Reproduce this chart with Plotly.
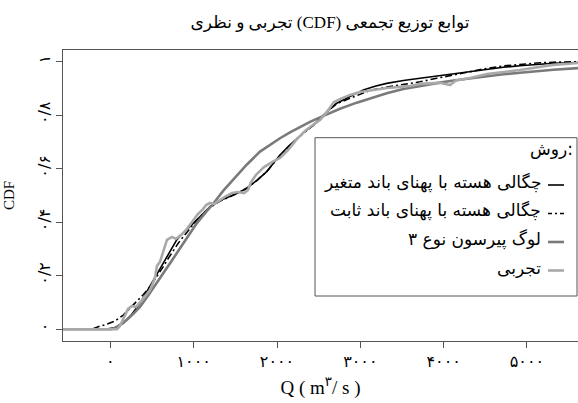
import plotly.graph_objects as go

# ---------------- data ----------------
# Kernel density, variable bandwidth (black solid)
var_x = [-569, -200, -50, 50, 155, 255, 355, 435, 515, 595, 676, 736, 796, 856, 916, 976,
         1036, 1116, 1196, 1316, 1436, 1536, 1636, 1756, 1876, 1956, 2036, 2137, 2237, 2336,
         2436, 2517, 2597, 2657, 2717, 2816, 2916, 3036, 3176, 3317, 3517, 3717, 3917, 4116,
         4317, 4517, 4717, 4917, 5117, 5317, 5613]
var_y = [0, 0, 0.001, 0.006, 0.022, 0.055, 0.097, 0.14, 0.184, 0.228, 0.271, 0.305, 0.334,
         0.355, 0.371, 0.39, 0.408, 0.432, 0.458, 0.481, 0.496, 0.51, 0.527, 0.556, 0.589, 0.62,
         0.651, 0.684, 0.714, 0.74, 0.763, 0.788, 0.813, 0.83, 0.845, 0.862, 0.876, 0.894, 0.908,
         0.919, 0.93, 0.938, 0.946, 0.954, 0.963, 0.972, 0.979, 0.985, 0.99, 0.994, 0.997]

# Kernel density, fixed bandwidth (black dash-dot)
fix_x = [-569, -300, -200, -125, -50, 50, 155, 236, 316, 396, 475, 555, 635, 695, 755, 815,
         875, 955, 1036, 1116, 1196, 1316, 1436, 1536, 1636, 1756, 1876, 2036, 2237, 2436, 2597,
         2717, 2916, 3117, 3317, 3517, 3717, 3917, 4116, 4317, 4517, 4717, 4917, 5117, 5317, 5613]
fix_y = [0, 0, 0.003, 0.012, 0.018, 0.03, 0.053, 0.078, 0.103, 0.13, 0.159, 0.195, 0.234,
         0.265, 0.296, 0.322, 0.346, 0.377, 0.408, 0.432, 0.455, 0.479, 0.495, 0.51, 0.527,
         0.556, 0.589, 0.65, 0.712, 0.762, 0.812, 0.843, 0.868, 0.893, 0.905, 0.915, 0.925,
         0.938, 0.95, 0.962, 0.975, 0.984, 0.99, 0.995, 0.998, 1.0]

# Log-Pearson type III (dark gray)
lp3_x = [-569, 0, 60, 120, 196, 275, 355, 455, 556, 636, 716, 796, 875, 955, 1036, 1136, 1236,
         1356, 1476, 1636, 1796, 1916, 2036, 2156, 2276, 2396, 2516, 2636, 2756, 2957, 3117,
         3317, 3516, 3717, 3917, 4117, 4317, 4517, 4717, 4917, 5118, 5317, 5613]
lp3_y = [0, 0, 0.005, 0.018, 0.035, 0.058, 0.084, 0.127, 0.172, 0.21, 0.247, 0.284, 0.321,
         0.359, 0.396, 0.434, 0.47, 0.518, 0.56, 0.615, 0.664, 0.69, 0.714, 0.736, 0.757, 0.775,
         0.792, 0.809, 0.824, 0.847, 0.863, 0.882, 0.898, 0.91, 0.92, 0.93, 0.938, 0.946, 0.953,
         0.959, 0.965, 0.97, 0.976]

# Empirical (light gray)
emp_x = [-569, 79, 115, 163, 211, 259, 307, 379, 475, 535, 559, 595, 619, 643, 679, 739, 788,
         836, 908, 980, 1052, 1112, 1148, 1196, 1244, 1316, 1388, 1460, 1532, 1604, 1652, 1688,
         1748, 1844, 1940, 2036, 2132, 2228, 2336, 2444, 2516, 2588, 2648, 2684, 2756, 2876,
         2996, 3320, 3476, 3597, 3717, 3957, 4077, 4149, 4317, 4521, 4917, 5313, 5613]
emp_y = [0, 0, 0.012, 0.042, 0.076, 0.087, 0.083, 0.109, 0.147, 0.192, 0.237, 0.252, 0.274,
         0.3, 0.334, 0.345, 0.338, 0.349, 0.371, 0.401, 0.431, 0.449, 0.464, 0.472, 0.468,
         0.483, 0.498, 0.509, 0.513, 0.509, 0.521, 0.55, 0.577, 0.606, 0.625, 0.64, 0.67, 0.707,
         0.741, 0.767, 0.782, 0.808, 0.834, 0.849, 0.86, 0.876, 0.887, 0.902, 0.906, 0.909,
         0.917, 0.921, 0.913, 0.93, 0.939, 0.954, 0.969, 0.988, 0.995]

x_tickvals = [0, 1000, 2000, 3000, 4000, 5000]
x_ticktext = ["۰", "۱۰۰۰", "۲۰۰۰", "۳۰۰۰", "۴۰۰۰", "۵۰۰۰"]
y_tickvals = [0, 0.2, 0.4, 0.6, 0.8, 1.0]
y_ticktext = ["۰", "۰/۲", "۰/۴", "۰/۶", "۰/۸", "۱"]

legend_title = "روش:"
series_names = ["چگالی هسته با پهنای باند متغیر",
                "چگالی هسته با پهنای باند ثابت",
                "لوگ پیرسون نوع ۳",
                "تجربی"]
title_text = "توابع توزیع تجمعی (CDF) تجربی و نظری"

# ---------------- styles ----------------
styles = [
    dict(color="#000000", width=1.6, dash="solid"),
    dict(color="#000000", width=1.6, dash="7px,3px,2px,3px"),
    dict(color="#7a7a7a", width=2.6, dash="solid"),
    dict(color="#a9a9a9", width=2.6, dash="solid"),
]

W, H = 578, 403
ML, MR, MT, MB = 63, 0, 50, 62
PW, PH = W - ML - MR, H - MT - MB


def px_x(p):
    return (p - ML) / PW


def px_y(p):
    return (H - MB - p) / PH


fig = go.Figure()
data = [(var_x, var_y), (fix_x, fix_y), (lp3_x, lp3_y), (emp_x, emp_y)]
for (xs, ys), name, st in zip(data, series_names, styles):
    fig.add_trace(go.Scatter(x=xs, y=ys, mode="lines", name=name,
                             line=dict(color=st["color"], width=st["width"], dash=st["dash"]),
                             showlegend=False))

# ---------------- manual RTL legend ----------------
shapes = [dict(type="rect", xref="paper", yref="paper",
               x0=px_x(315), x1=px_x(577), y0=px_y(296), y1=px_y(137.7),
               line=dict(color="#555555", width=1), fillcolor="white", layer="above")]
annotations = []
row_px = [185, 213.5, 242, 270.5]
legend_font = dict(family="DejaVu Sans", size=17, color="#000")
for name, st, ry in zip(series_names, styles, row_px):
    shapes.append(dict(type="line", xref="paper", yref="paper",
                       x0=px_x(548), x1=px_x(564), y0=px_y(ry), y1=px_y(ry),
                       line=dict(color=st["color"], width=st["width"],
                                 dash="4px,3px,2px,3px" if st["dash"] != "solid" else "solid"),
                       layer="above"))
    annotations.append(dict(xref="paper", yref="paper", x=px_x(543), y=px_y(ry - 3),
                            xanchor="right", yanchor="middle", showarrow=False,
                            text=name, font=legend_font))
annotations.append(dict(xref="paper", yref="paper", x=px_x(575), y=px_y(149),
                        xanchor="right", yanchor="middle", showarrow=False,
                        text="\u200e" + legend_title + "\u200e", font=legend_font))

axis_font = dict(family="DejaVu Sans", size=16, color="#000")
fig.update_layout(
    width=W, height=H,
    margin=dict(l=ML, r=MR, t=MT, b=MB, pad=0),
    paper_bgcolor="white", plot_bgcolor="white",
    title=dict(text="\u202b" + title_text + "\u202c", x=px_x(330), xanchor="center",
               xref="paper", y=1 - 22 / H, yanchor="middle",
               font=dict(family="Liberation Serif, DejaVu Sans", size=17, color="#000")),
    xaxis=dict(range=[-569, 5613], tickvals=x_tickvals, ticktext=x_ticktext,
               showgrid=False, zeroline=False, showline=True, linecolor="#555555",
               linewidth=1, mirror=True, ticks="outside", ticklen=6, tickcolor="#555555",
               tickfont=axis_font,
               title=dict(text="Q ( m<sup>۳</sup>/ s )", standoff=10,
                          font=dict(family="Liberation Serif, DejaVu Sans", size=19, color="#000"))),
    yaxis=dict(range=[-0.0437, 1.0437], tickvals=y_tickvals, ticktext=y_ticktext,
               showgrid=False, zeroline=False, showline=True, linecolor="#555555",
               linewidth=1, ticks="outside", ticklen=6, tickcolor="#555555",
               tickfont=axis_font, tickangle=-90,
               title=dict(text="CDF", standoff=16,
                          font=dict(family="Liberation Serif", size=15, color="#000"))),
    shapes=shapes, annotations=annotations,
)

fig.write_html("out.html", config={"displayModeBar": False},
               post_script="document.body.style.margin='0';document.body.style.padding='0';")
